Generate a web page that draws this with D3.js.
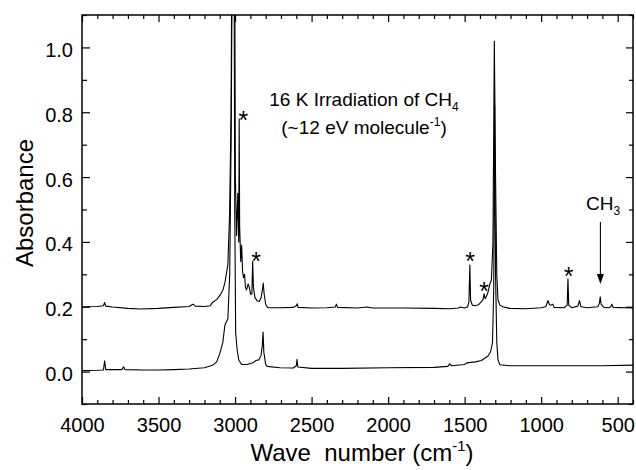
<!DOCTYPE html>
<html><head><meta charset="utf-8">
<script src="https://cdn.jsdelivr.net/npm/d3@7"></script>
<style>
html,body{margin:0;padding:0;background:#fff;}
svg{display:block;font-family:"Liberation Sans",Arial,Helvetica,sans-serif;}
</style></head>
<body><svg id="c" width="636" height="470"></svg>
<script>
// ---- data ----
const xTicks = [4000, 3500, 3000, 2500, 2000, 1500, 1000, 500];
const yTicks = [0.0, 0.2, 0.4, 0.6, 0.8, 1.0];

// Upper spectrum: irradiated CH4 (offset +0.2)
const topWn = [4000,3900,3860,3852,3845,3800,3700,3620,3500,3400,3300,3275,3260,3200,3164,3145,3120,3099,3079,3066,3047,3036,3026,3018,3004,2998,2990,2982,2976,2973,2970,2963,2957,2951,2945,2938,2932,2925,2915,2908,2898,2890,2885,2880,2870,2855,2842,2830,2822,2816,2810,2800,2790,2783,2700,2620,2600,2594,2588,2500,2400,2345,2338,2330,2200,2140,2100,1900,1700,1600,1540,1532,1500,1480,1472,1466,1461,1450,1434,1410,1390,1380,1373,1366,1350,1335,1325,1315,1306,1298,1290,1282,1270,1251,1205,1100,1000,970,956,945,935,924,915,850,830,825,820,800,760,750,740,700,630,620,614,608,590,560,545,538,530,400];
const topAbs = [0.200,0.201,0.203,0.213,0.202,0.199,0.195,0.193,0.195,0.198,0.201,0.208,0.202,0.201,0.203,0.214,0.222,0.235,0.252,0.275,0.33,0.48,0.8,1.6,1.6,0.6,0.42,0.55,0.4,0.78,0.45,0.34,0.39,0.31,0.29,0.30,0.26,0.252,0.27,0.262,0.238,0.24,0.34,0.26,0.228,0.218,0.216,0.228,0.25,0.273,0.24,0.208,0.199,0.197,0.197,0.198,0.203,0.209,0.198,0.196,0.197,0.199,0.208,0.198,0.196,0.199,0.196,0.196,0.195,0.194,0.196,0.199,0.196,0.2,0.215,0.329,0.22,0.205,0.203,0.206,0.216,0.222,0.24,0.225,0.24,0.27,0.283,0.4,1.02,0.6,0.3,0.221,0.205,0.2,0.195,0.194,0.197,0.2,0.219,0.206,0.205,0.208,0.198,0.197,0.205,0.286,0.205,0.197,0.202,0.219,0.2,0.197,0.2,0.21,0.231,0.207,0.198,0.197,0.2,0.208,0.198,0.196];

// Lower spectrum: CH4 before irradiation
const botWn = [4000,3900,3860,3852,3845,3740,3728,3720,3600,3500,3400,3300,3200,3164,3145,3120,3099,3080,3066,3055,3047,3035,3025,3015,3008,3002,2996,2986,2975,2957,2920,2880,2865,2845,2830,2822,2817,2812,2800,2790,2707,2620,2600,2595,2590,2500,2300,2000,1700,1610,1598,1585,1500,1486,1430,1390,1347,1330,1318,1310,1304,1298,1290,1282,1270,1205,1000,800,600,400];
const botAbs = [0.003,0.004,0.005,0.033,0.006,0.006,0.015,0.006,0.005,0.005,0.006,0.008,0.012,0.017,0.02,0.03,0.057,0.09,0.144,0.155,0.162,0.3,0.75,1.6,1.6,0.5,0.12,0.065,0.035,0.022,0.022,0.028,0.034,0.036,0.05,0.08,0.122,0.06,0.022,0.016,0.012,0.011,0.018,0.038,0.014,0.01,0.01,0.012,0.013,0.016,0.024,0.018,0.022,0.027,0.03,0.034,0.048,0.062,0.09,0.25,0.82,0.3,0.09,0.036,0.021,0.018,0.018,0.018,0.018,0.02];

// Asterisk markers (wave number, absorbance at the top of the marker)
const starWn  = [2945, 2863, 1465, 1372, 820];
const starAbs = [0.80, 0.367, 0.365, 0.274, 0.32];

// ---- layout ----
const svg = d3.select("#c");
const L = 82, R = 633, T = 15, B = 404;
const x = d3.scaleLinear().domain([4000, 400]).range([L, R]);
const y = d3.scaleLinear().domain([-0.1, 1.1]).range([B, T]);
const xMinor = d3.range(4000, 399, -100).filter(v => v % 500 !== 0);
const yMinor = [-0.1, 0.1, 0.3, 0.5, 0.7, 0.9, 1.1];

svg.append("defs").append("clipPath").attr("id", "clip")
  .append("rect").attr("x", L).attr("y", T).attr("width", R - L).attr("height", B - T);

// spectra
const mk = (wn, ab) => wn.map((w, i) => [w, ab[i]]);
const line = d3.line().x(d => x(d[0])).y(d => y(d[1]));
const g = svg.append("g").attr("clip-path", "url(#clip)");
[mk(botWn, botAbs), mk(topWn, topAbs)].forEach(d => {
  g.append("path").datum(d).attr("d", line)
    .attr("fill", "none").attr("stroke", "#000").attr("stroke-width", 1.1)
    .attr("stroke-linejoin", "round");
});

// axes
function styleAxis(sel) {
  sel.select(".domain").remove();
  sel.selectAll("line").attr("stroke", "#000").attr("stroke-width", 1.2);
}
const fs = 20;
const gx = svg.append("g").attr("transform", `translate(0,${B})`)
  .call(d3.axisBottom(x).tickValues(xTicks).tickSize(-7).tickFormat(d3.format("d")));
styleAxis(gx);
gx.selectAll("text").attr("y", 14).attr("dy", "0.71em").attr("font-size", fs).attr("fill", "#000");
svg.append("g").attr("transform", `translate(0,${B})`)
  .call(d3.axisBottom(x).tickValues(xMinor).tickSize(-4).tickFormat("")).call(styleAxis);
svg.append("g").attr("transform", `translate(0,${T})`)
  .call(d3.axisTop(x).tickValues(xTicks).tickSize(-7).tickFormat("")).call(styleAxis);
svg.append("g").attr("transform", `translate(0,${T})`)
  .call(d3.axisTop(x).tickValues(xMinor).tickSize(-4).tickFormat("")).call(styleAxis);

const gy = svg.append("g").attr("transform", `translate(${L},0)`)
  .call(d3.axisLeft(y).tickValues(yTicks).tickSize(-8).tickFormat(d3.format(".1f")));
styleAxis(gy);
gy.selectAll("text").attr("x", -9).attr("dy", "0.45em").attr("font-size", fs).attr("fill", "#000");
svg.append("g").attr("transform", `translate(${L},0)`)
  .call(d3.axisLeft(y).tickValues(yMinor).tickSize(-5).tickFormat("")).call(styleAxis);
svg.append("g").attr("transform", `translate(${R},0)`)
  .call(d3.axisRight(y).tickValues(yTicks).tickSize(-7).tickFormat("")).call(styleAxis);
svg.append("g").attr("transform", `translate(${R},0)`)
  .call(d3.axisRight(y).tickValues(yMinor).tickSize(-4).tickFormat("")).call(styleAxis);

svg.append("rect").attr("x", L).attr("y", T).attr("width", R - L).attr("height", B - T)
  .attr("fill", "none").attr("stroke", "#000").attr("stroke-width", 1.5);

// axis titles
const xt = svg.append("text").attr("x", 362).attr("y", 461).attr("text-anchor", "middle")
  .attr("font-size", 24).attr("fill", "#000").style("white-space", "pre");
xt.append("tspan").text("Wave  number (cm");
xt.append("tspan").attr("font-size", 15).attr("dy", -10).text("-1");
xt.append("tspan").attr("dy", 10).text(")");
svg.append("text").attr("transform", "translate(33,203) rotate(-90)").attr("text-anchor", "middle")
  .attr("font-size", 24).attr("fill", "#000").text("Absorbance");

// annotation
const t1 = svg.append("text").attr("x", 364).attr("y", 106).attr("text-anchor", "middle")
  .attr("font-size", 19).attr("fill", "#000");
t1.append("tspan").text("16 K Irradiation of CH");
t1.append("tspan").attr("font-size", 12).attr("dy", 5).text("4");
const t2 = svg.append("text").attr("x", 364).attr("y", 134).attr("text-anchor", "middle")
  .attr("font-size", 19).attr("fill", "#000");
t2.append("tspan").text("(~12 eV molecule");
t2.append("tspan").attr("font-size", 12).attr("dy", -8).text("-1");
t2.append("tspan").attr("dy", 8).text(")");

// asterisks
starWn.forEach((w, i) => {
  svg.append("text").attr("x", x(w)).attr("y", y(starAbs[i]) + 17)
    .attr("text-anchor", "middle").attr("font-size", 25).attr("fill", "#000").text("*");
});

// CH3 label with arrow
const ch = svg.append("text").attr("x", 603).attr("y", 210).attr("text-anchor", "middle")
  .attr("font-size", 19).attr("fill", "#000");
ch.append("tspan").text("CH");
ch.append("tspan").attr("font-size", 12).attr("dy", 5).text("3");
const ax = x(613);
svg.append("line").attr("x1", ax).attr("x2", ax).attr("y1", 222).attr("y2", 276)
  .attr("stroke", "#000").attr("stroke-width", 1.1);
svg.append("path").attr("d", `M${ax - 3.5},274 L${ax + 3.5},274 L${ax},284 Z`).attr("fill", "#000");
</script></body></html>
